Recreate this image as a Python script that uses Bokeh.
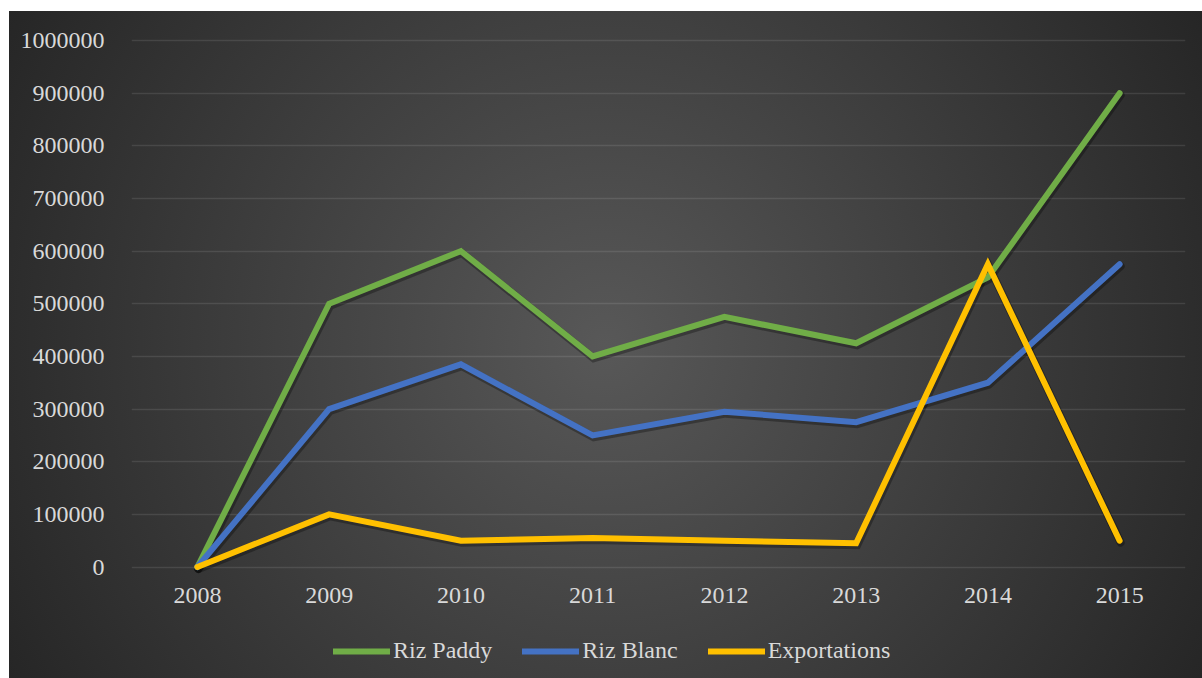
from bokeh.plotting import figure
from bokeh.models import ColumnDataSource, Range1d, FixedTicker, Legend, LegendItem
from bokeh.transform import dodge
from bokeh.core.properties import value
from bokeh.embed import file_html
from bokeh.resources import INLINE

years = ["2008", "2009", "2010", "2011", "2012", "2013", "2014", "2015"]
riz_paddy = [0, 500000, 600000, 400000, 475000, 425000, 550000, 900000]
riz_blanc = [0, 300000, 385000, 250000, 295000, 275000, 350000, 575000]
exportations = [0, 100000, 50000, 55000, 50000, 45000, 575000, 50000]
y_ticks = [0, 100000, 200000, 300000, 400000, 500000, 600000, 700000, 800000, 900000, 1000000]

series = [("Riz Paddy", riz_paddy, "#70AD47"),
          ("Riz Blanc", riz_blanc, "#4472C4"),
          ("Exportations", exportations, "#FFC000")]

FONT = "Liberation Serif"
TXT = "#d9d9d9"

# frame geometry (pixels): frame spans 649 px tall; 0 sits 111.5 px above the frame bottom,
# the top tick sits 11 px below the frame top
FRAME_H = 649
UPP = 1000000 / 526.5  # data units per pixel
y0 = -111.5 * UPP
y1 = 1000000 + 11 * UPP

p = figure(frame_width=1054, frame_height=FRAME_H, output_backend="svg", toolbar_location=None,
           x_range=Range1d(-0.5, len(years) - 0.5),
           y_range=Range1d(y0, y1),
           min_border_left=122, min_border_right=17, min_border_top=18, min_border_bottom=0)
p.margin = (11, 0, 0, 9)
p.background_fill_color = None
p.border_fill_color = None
p.outline_line_color = None
p.styles = {"background": "radial-gradient(circle at 50% 50%, #585858 0%, #262626 100%)"}

p.xgrid.visible = False
p.xaxis.visible = False
p.ygrid.grid_line_color = "#ffffff"
p.ygrid.grid_line_alpha = 0.1
p.ygrid.grid_line_width = 1.3
p.yaxis.ticker = FixedTicker(ticks=y_ticks)
p.yaxis.formatter.use_scientific = False
ax = p.yaxis[0]
ax.axis_line_color = None
ax.major_tick_line_color = None
ax.minor_tick_line_color = None
ax.major_label_text_font = FONT
ax.major_label_text_font_size = "24px"
ax.major_label_text_color = TXT
ax.major_label_standoff = 21

# x category labels
p.text(x=list(range(len(years))), y=[-28.5 * UPP] * len(years), text=years,
       text_font=value(FONT), text_font_size="24px", text_color=TXT,
       text_align="center", text_baseline="middle")

items = []
for name, vals, color in series:
    src = ColumnDataSource(dict(x=list(range(len(years))), y=vals))
    p.line(x=dodge("x", 0.008, range=p.x_range), y=dodge("y", -2 * UPP, range=p.y_range), source=src,
           line_color="black", line_alpha=0.3, line_width=8, line_cap="round", line_join="miter")
for name, vals, color in series:
    src = ColumnDataSource(dict(x=list(range(len(years))), y=vals))
    r = p.line(x="x", y="y", source=src, line_color=color, line_width=6,
               line_cap="round", line_join="miter")
    items.append(LegendItem(label=name, renderers=[r]))

legend = Legend(items=items, orientation="horizontal", location=(202, 14),
                background_fill_alpha=0, border_line_color=None,
                label_text_font=FONT, label_text_font_size="24px", label_text_color=TXT,
                glyph_width=57, glyph_height=20, label_standoff=3, spacing=30,
                padding=4, margin=0)
p.add_layout(legend)

open("out.html", "w").write(file_html(p, INLINE))
